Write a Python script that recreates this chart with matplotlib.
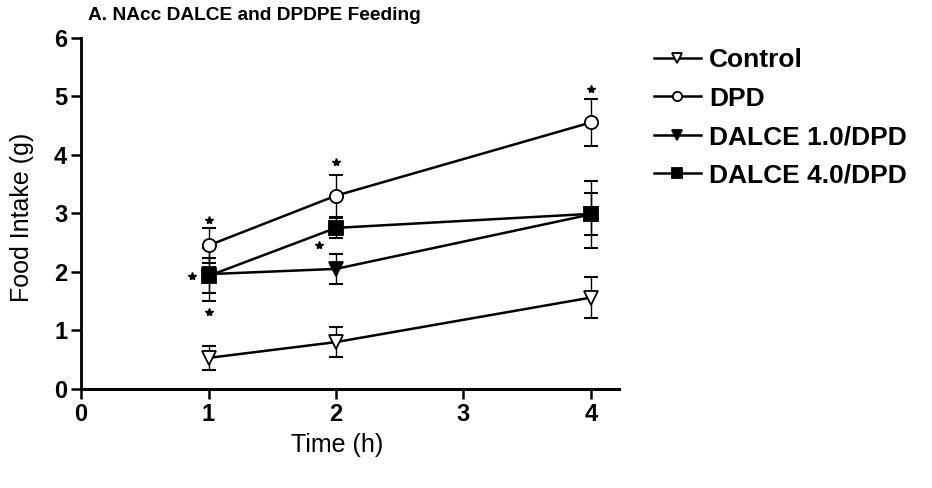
import matplotlib
matplotlib.use("Agg")
import matplotlib.pyplot as plt

plt.rcParams['font.family'] = ['Liberation Sans', 'DejaVu Sans']

times = [1, 2, 4]
control = [0.53, 0.80, 1.56]
control_err = [0.20, 0.25, 0.35]
dpd = [2.45, 3.30, 4.55]
dpd_err = [0.30, 0.36, 0.40]
dalce1 = [1.96, 2.05, 2.98]
dalce1_err = [0.45, 0.25, 0.57]
dalce4 = [1.93, 2.75, 2.99]
dalce4_err = [0.30, 0.17, 0.36]

# significance stars (x, y)
star_x = [1, 2, 4, 1, 0.87, 1.87]
star_y = [2.88, 3.88, 5.12, 1.32, 1.93, 2.46]

fig = plt.figure(figsize=(9.32, 4.88), dpi=100)
ax = fig.add_axes([0.087, 0.203, 0.577, 0.72])

series = [
    ("Control", control, control_err, "v", "white"),
    ("DPD", dpd, dpd_err, "o", "white"),
    ("DALCE 1.0/DPD", dalce1, dalce1_err, "v", "black"),
    ("DALCE 4.0/DPD", dalce4, dalce4_err, "s", "black"),
]

handles = []
for name, vals, errs, mk, fc in series:
    ax.errorbar(times, vals, yerr=errs, fmt="none", ecolor="black",
                elinewidth=1.0, capsize=5, capthick=1.5, zorder=2)
    ln, = ax.plot(times, vals, color="black", lw=1.8, marker=mk,
                  markersize=9.5, markerfacecolor=fc, markeredgecolor="black",
                  markeredgewidth=1.3, zorder=3, label=name)
    handles.append(ln)

ax.plot(star_x, star_y, linestyle="none", marker="*", color="black",
        markersize=6, zorder=4)

ax.set_xlim(0, 4.22)
ax.set_ylim(0, 6)
ax.set_xticks([0, 1, 2, 3, 4])
ax.set_yticks([0, 1, 2, 3, 4, 5, 6])
ax.spines['top'].set_visible(False)
ax.spines['right'].set_visible(False)
ax.spines['left'].set_linewidth(2)
ax.spines['bottom'].set_linewidth(2.2)
ax.tick_params(axis='both', width=1.8, length=7, labelsize=17)
ax.tick_params(axis='x', pad=3)
ax.tick_params(axis='y', pad=3)
for lab in ax.get_xticklabels() + ax.get_yticklabels():
    lab.set_fontweight("bold")

fig.text(0.362, 0.088, "Time (h)", fontsize=18, ha="center", va="center")
fig.text(0.024, 0.555, "Food Intake (g)", fontsize=18, rotation=90,
         ha="center", va="center")
fig.text(0.094, 0.968, "A. NAcc DALCE and DPDPE Feeding", fontsize=13.8,
         fontweight="bold", va="center", ha="left")

leg = fig.legend(handles=handles, loc="upper left", bbox_to_anchor=(0.69, 0.923),
                 frameon=False, fontsize=19, handlelength=1.8, handletextpad=0.3,
                 labelspacing=0.55, markerscale=0.7, borderaxespad=0)
for t in leg.get_texts():
    t.set_fontweight("bold")

fig.savefig("out.png", dpi=100)
